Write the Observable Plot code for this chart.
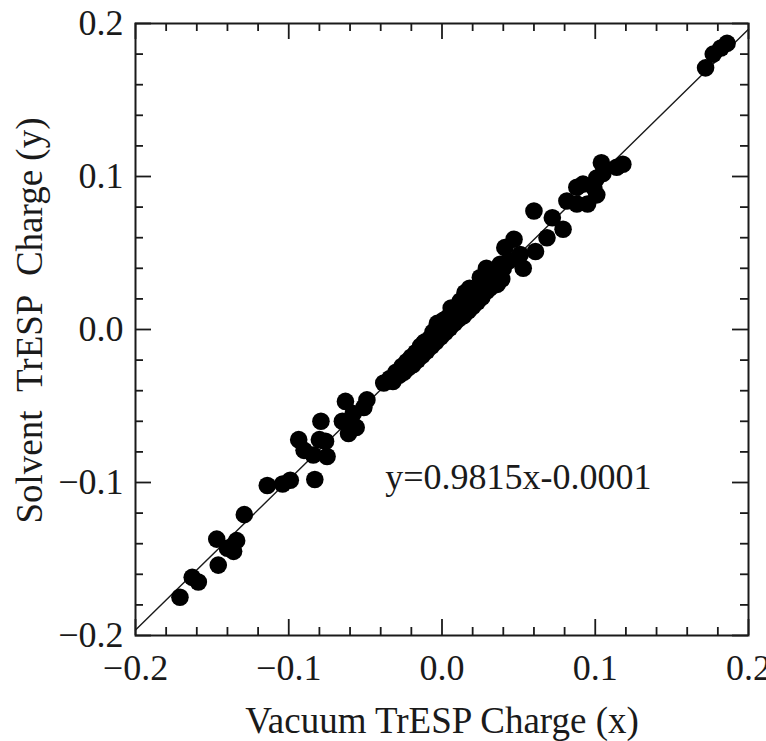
<!DOCTYPE html>
<html><head><meta charset="utf-8">
<script src="https://cdn.jsdelivr.net/npm/d3@7"></script>
<script src="https://cdn.jsdelivr.net/npm/@observablehq/plot@0.6"></script>
<style>body{margin:0;background:#fff}</style>
</head><body><div id="chart"></div>
<script>
// Vacuum TrESP charge (x) and solvent TrESP charge (y)
const vacuum = [
  -0.171,-0.163,-0.159,-0.146,-0.147,-0.140,-0.136,-0.134,-0.129,-0.114,-0.104,-0.099,-0.083,
  -0.0935,-0.090,-0.084,-0.079,-0.080,-0.075,-0.076,-0.063,-0.065,-0.061,-0.056,-0.058,-0.051,-0.049,
  -0.038,-0.034,
  -0.032,-0.030,-0.028,-0.026,-0.025,-0.023,-0.022,-0.020,-0.019,-0.017,-0.016,-0.014,-0.013,-0.011,
  -0.010,-0.008,-0.007,-0.005,-0.004,-0.003,-0.002,-0.001,0.001,0.002,0.004,0.005,0.006,0.007,0.008,
  0.010,0.011,0.013,0.014,0.015,0.016,0.017,0.019,0.020,0.022,0.023,0.025,0.026,0.028,0.029,0.031,
  0.032,0.034,0.035,0.037,0.039,
  -0.012,-0.006,0.003,0.009,0.018,0.024,0.030,0.033,
  0.047,0.041,0.051,0.053,0.038,0.029,0.025,0.036,0.018,0.012,0.044,0.040,0.031,0.026,
  0.060,0.072,0.079,0.0685,0.061,
  0.104,0.118,0.114,0.101,0.105,0.092,0.088,0.099,0.0815,0.088,0.095,0.101,
  0.172,0.177,0.182,0.186
];
const solvent = [
  -0.175,-0.162,-0.165,-0.154,-0.137,-0.143,-0.145,-0.138,-0.121,-0.102,-0.101,-0.0985,-0.098,
  -0.072,-0.079,-0.082,-0.060,-0.072,-0.083,-0.073,-0.047,-0.060,-0.068,-0.064,-0.055,-0.051,-0.046,
  -0.035,-0.032,
  -0.034,-0.028,-0.030,-0.024,-0.028,-0.021,-0.025,-0.018,-0.023,-0.015,-0.020,-0.011,-0.017,-0.008,
  -0.014,-0.006,-0.011,-0.001,-0.008,0.004,0.002,-0.005,0.006,-0.002,0.008,0.001,0.014,0.011,0.004,
  0.014,0.007,0.017,0.009,0.024,0.019,0.012,0.022,0.015,0.026,0.018,0.029,0.021,0.032,0.025,0.035,
  0.028,0.038,0.031,0.036,0.033,
  -0.009,-0.002,0.007,0.012,0.020,0.027,0.030,0.034,
  0.059,0.0535,0.049,0.040,0.0426,0.040,0.034,0.0295,0.027,0.0186,0.045,0.040,0.027,0.023,
  0.0775,0.073,0.0655,0.060,0.051,
  0.109,0.108,0.106,0.099,0.102,0.095,0.093,0.093,0.084,0.082,0.082,0.088,
  0.171,0.180,0.184,0.187
];
const axisDomain = [-0.2, 0.2];
const majorTicks = [-0.2, -0.1, 0.0, 0.1, 0.2];
const minorTicks = [-0.18,-0.16,-0.14,-0.12,-0.08,-0.06,-0.04,-0.02,0.02,0.04,0.06,0.08,0.12,0.14,0.16,0.18];
const fitSlope = 0.9815, fitIntercept = -0.0001;
const eqLabel = "y=0.9815x-0.0001";
const xLabel = "Vacuum TrESP Charge (x)";
const yLabel = "Solvent\u00a0\u00a0TrESP\u00a0\u00a0Charge (y)";

const points = vacuum.map((x, i) => ({x, y: solvent[i]}));
const fitLine = axisDomain.map(x => ({x, y: fitSlope * x + fitIntercept}));

const serif = "'Liberation Serif','Times New Roman',Times,serif";
const ink = "#1a1a1a";
const fmt = d3.format(".1f");

const chart = Plot.plot({
  width: 766, height: 741,
  marginLeft: 135, marginRight: 18, marginTop: 23, marginBottom: 106,
  style: {fontFamily: serif, fontSize: "36px", color: ink, background: "#fff"},
  x: {domain: axisDomain},
  y: {domain: axisDomain},
  marks: [
    Plot.line(fitLine, {x: "x", y: "y", stroke: ink, strokeWidth: 1.4}),
    Plot.dot(points, {x: "x", y: "y", r: 8.8, fill: "#000", stroke: "none"}),
    // inward ticks on all four sides
    Plot.ruleX(majorTicks, {x: d => d, y1: axisDomain[0], y2: axisDomain[0], insetTop: -16, stroke: ink, strokeWidth: 1.8}),
    Plot.ruleX(minorTicks, {x: d => d, y1: axisDomain[0], y2: axisDomain[0], insetTop: -8, stroke: ink, strokeWidth: 1.8}),
    Plot.ruleX(majorTicks, {x: d => d, y1: axisDomain[1], y2: axisDomain[1], insetBottom: -16, stroke: ink, strokeWidth: 1.8}),
    Plot.ruleX(minorTicks, {x: d => d, y1: axisDomain[1], y2: axisDomain[1], insetBottom: -8, stroke: ink, strokeWidth: 1.8}),
    Plot.ruleY(majorTicks, {y: d => d, x1: axisDomain[0], x2: axisDomain[0], insetRight: -16, stroke: ink, strokeWidth: 1.8}),
    Plot.ruleY(minorTicks, {y: d => d, x1: axisDomain[0], x2: axisDomain[0], insetRight: -8, stroke: ink, strokeWidth: 1.8}),
    Plot.ruleY(majorTicks, {y: d => d, x1: axisDomain[1], x2: axisDomain[1], insetLeft: -16, stroke: ink, strokeWidth: 1.8}),
    Plot.ruleY(minorTicks, {y: d => d, x1: axisDomain[1], x2: axisDomain[1], insetLeft: -8, stroke: ink, strokeWidth: 1.8}),
    Plot.frame({stroke: ink, strokeWidth: 2}),
    Plot.axisX({ticks: majorTicks, tickFormat: fmt, tickSize: 0, tickPadding: 19, label: null, fontSize: 36, fill: ink}),
    Plot.axisY({ticks: majorTicks, tickFormat: fmt, tickSize: 0, tickPadding: 12, label: null, fontSize: 36, fill: ink}),
    Plot.text([eqLabel], {x: -0.037, y: -0.1043, text: d => d, textAnchor: "start", lineAnchor: "bottom", fontSize: 36, fill: ink}),
    Plot.text([xLabel], {frameAnchor: "bottom", text: d => d, lineAnchor: "bottom", dy: 97, fontSize: 37, fill: ink}),
    Plot.text([yLabel], {frameAnchor: "left", text: d => d, rotate: -90, textAnchor: "middle", lineAnchor: "middle", dx: -105, dy: -9, fontSize: 37, fill: ink})
  ]
});
document.getElementById("chart").appendChild(chart);
</script>
</body></html>
